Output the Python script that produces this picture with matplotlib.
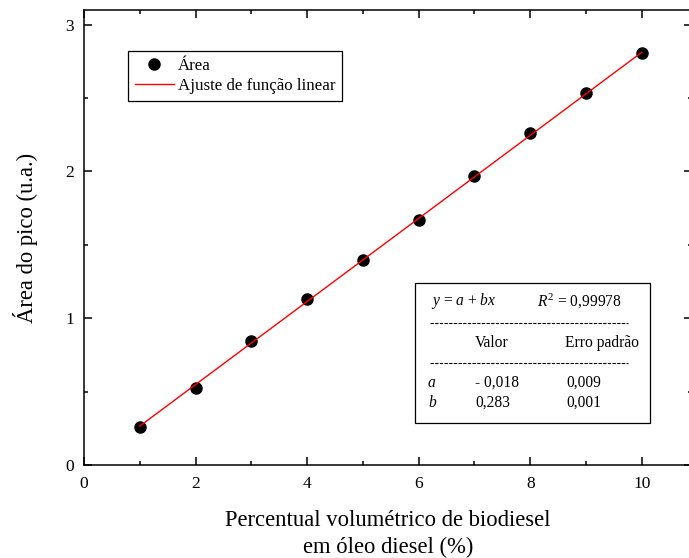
import matplotlib
matplotlib.use("Agg")
import matplotlib.pyplot as plt
import numpy as np
from matplotlib.ticker import MultipleLocator
from matplotlib.patches import Rectangle
from matplotlib.lines import Line2D

plt.rcParams['font.family'] = ['Liberation Serif', 'DejaVu Serif']
plt.rcParams['mathtext.fontset'] = 'custom'
plt.rcParams['mathtext.rm'] = 'Liberation Serif'
plt.rcParams['mathtext.it'] = 'Liberation Serif:italic'

x_vals = [1, 2, 3, 4, 5, 6, 7, 8, 9, 10]
area = [0.259, 0.525, 0.845, 1.132, 1.397, 1.670, 1.970, 2.263, 2.536, 2.808]
fit_a = -0.018
fit_b = 0.283

W, H = 689, 558
fig = plt.figure(figsize=(W/100, H/100), dpi=100)
L, R, T, B = 84, 692, 10, 465
ax = fig.add_axes([L/W, (H-B)/H, (R-L)/W, (B-T)/H])

xf = np.array([1, 10])
ax.plot(xf, fit_a + fit_b*xf, color='red', lw=1.0, label='Ajuste de função linear', zorder=3)
ax.plot(x_vals, area, 'o', color='black', ms=8, label='Área', zorder=2)

ax.set_xlim(0, 10.9)
ax.set_ylim(0, 3.1)
ax.xaxis.set_major_locator(MultipleLocator(2))
ax.xaxis.set_minor_locator(MultipleLocator(1))
ax.yaxis.set_major_locator(MultipleLocator(1))
ax.yaxis.set_minor_locator(MultipleLocator(0.5))
ax.tick_params(which='both', direction='in', top=True, right=True, width=1.1, labelsize=12.5)
ax.tick_params(which='major', length=5.5)
ax.tick_params(which='minor', length=3)
ax.tick_params(axis='x', pad=8)
ax.tick_params(axis='y', pad=7)
for s in ax.spines.values():
    s.set_linewidth(1.1)

ax.set_xlabel('Percentual volumétrico de biodiesel\nem óleo diesel (%)', fontsize=16.3,
              labelpad=13, linespacing=1.35)
ax.set_ylabel('Área do pico (u.a.)', fontsize=16.3, labelpad=20)

h, l = ax.get_legend_handles_labels()
leg = ax.legend([h[1], h[0]], [l[1], l[0]], loc='upper left', bbox_to_anchor=(0.072, 0.91),
                borderaxespad=0, fancybox=False, edgecolor='black', framealpha=1,
                fontsize=12.2, handlelength=2.3, borderpad=0.4, labelspacing=0.25,
                handletextpad=0.25)
leg.get_frame().set_linewidth(0.9)

# Fit table
def fx(px): return px / W
def fy(py): return 1 - py / H

fig.patches.append(Rectangle((fx(415), fy(423)), fx(650) - fx(415), fy(283) - fy(423),
                             transform=fig.transFigure, fill=False, edgecolor='black', lw=0.9))
for yy in (323, 363):
    fig.lines.append(Line2D([fx(430), fx(628)], [fy(yy), fy(yy)], transform=fig.transFigure,
                            color='black', lw=0.8, linestyle=(0, (3.0, 1.2))))
fs = 11.2
fig.text(fx(431), fy(301), r'$y$ = $a$ + $bx$', fontsize=fs, va='center')
fig.text(fx(537), fy(301), r'$R^2$ = 0,99978', fontsize=fs, va='center')
fig.text(fx(475), fy(343), 'Valor', fontsize=fs, va='center')
fig.text(fx(565), fy(343), 'Erro padrão', fontsize=fs, va='center')
fig.text(fx(428), fy(383), 'a', fontsize=fs, va='center', style='italic')
fig.text(fx(475), fy(383), '- 0,018', fontsize=fs, va='center')
fig.text(fx(566), fy(383), '0,009', fontsize=fs, va='center')
fig.text(fx(428), fy(403), 'b', fontsize=fs, va='center', style='italic')
fig.text(fx(475), fy(403), '0,283', fontsize=fs, va='center')
fig.text(fx(566), fy(403), '0,001', fontsize=fs, va='center')

fig.savefig('out.png', dpi=100)
